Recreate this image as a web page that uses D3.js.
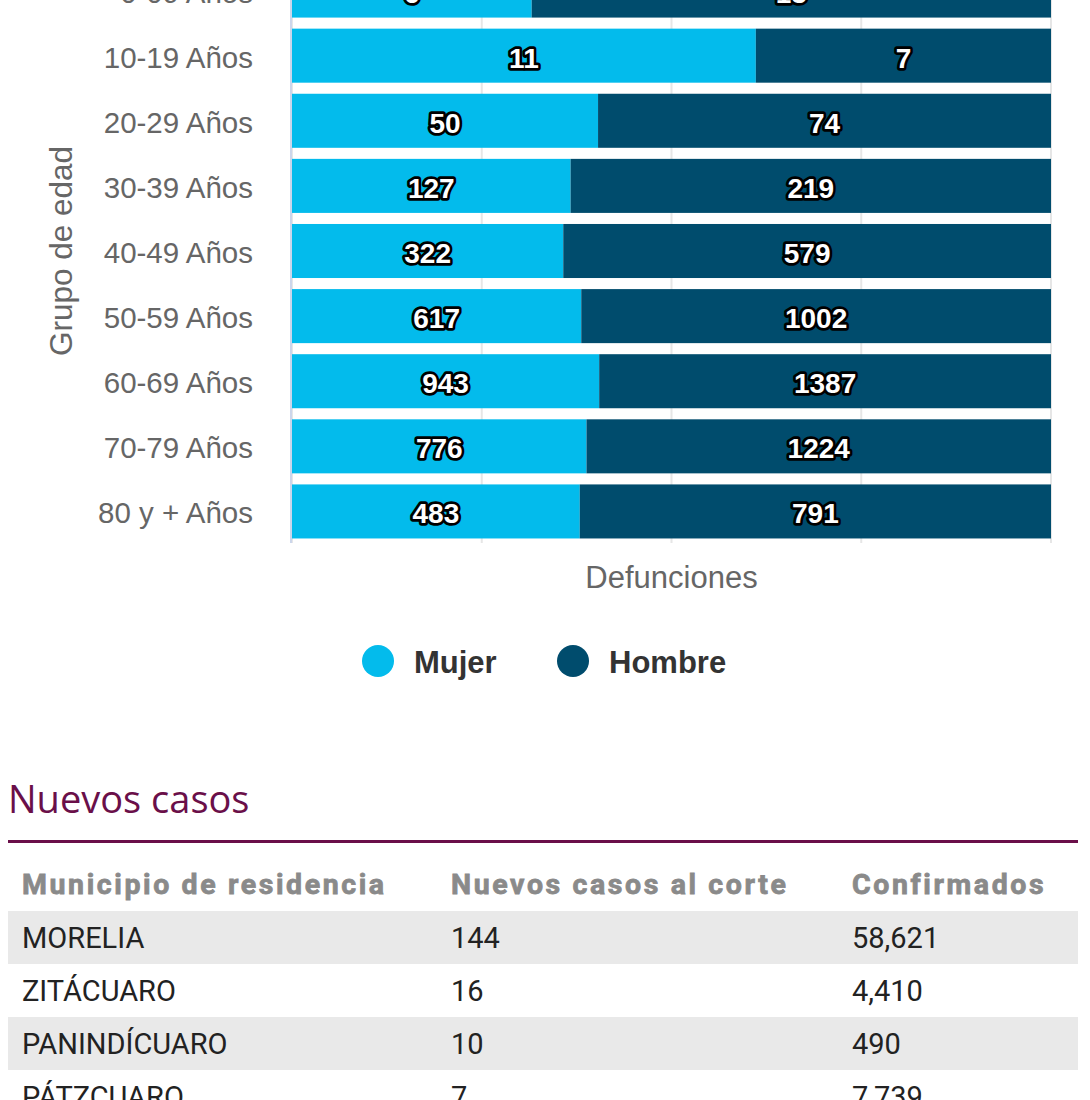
<!DOCTYPE html>
<html>
<head>
<meta charset="utf-8">
<script src="https://cdn.jsdelivr.net/npm/d3@7"></script>
<style>
  body { margin: 0; background: #fff; overflow: hidden; }
  #page { position: relative; width: 1090px; height: 1100px; overflow: hidden; }
  svg { position: absolute; left: 0; top: 0; }
  #heading { position: absolute; left: 8px; top: 772px; margin: 0; font-family: "Open Sans", sans-serif; font-weight: 500; font-size: 38px; color: #6a0f49; }
  #rule { position: absolute; left: 8px; top: 840px; width: 1070px; height: 3px; background: #6a0f49; }
  table { position: absolute; left: 8px; top: 858px; width: 1070px; border-collapse: collapse; font-family: Roboto, sans-serif; }
  th, td { height: 53px; padding: 0 0 0 14px; text-align: left; box-sizing: border-box; white-space: nowrap; }
  th { font-size: 28.5px; font-weight: 700; color: #8a8a8a; letter-spacing: 2.6px; -webkit-text-stroke: 0.8px #8a8a8a; }
  td { font-size: 29px; color: #222; }
  tbody tr:nth-child(odd) { background: #e9e9e9; }
</style>
</head>
<body>
<div id="page">
  <svg id="chart"></svg>
  <h2 id="heading">Nuevos casos</h2>
  <div id="rule"></div>
  <table id="casos"></table>
</div>
<script>
// chart data
let grupos = ["0-09 Años", "10-19 Años", "20-29 Años", "30-39 Años", "40-49 Años",
              "50-59 Años", "60-69 Años", "70-79 Años", "80 y + Años"]
let mujer = [6, 11, 50, 127, 322, 617, 943, 776, 483]
let hombre = [13, 7, 74, 219, 579, 1002, 1387, 1224, 791]
let pctTicks = [0, 25, 50, 75, 100]

// table data
let tablaCols = ["Municipio de residencia", "Nuevos casos al corte", "Confirmados"]
let municipios = ["MORELIA", "ZITÁCUARO", "PANINDÍCUARO", "PÁTZCUARO"]
let nuevos = ["144", "16", "10", "7"]
let confirmados = ["58,621", "4,410", "490", "7,739"]

let width = 1090
let height = 760
let colMujer = "#03bbec"
let colHombre = "#004c6d"
let font = "'Liberation Sans', Arial, sans-serif"

let svg = d3.select("#chart").attr("width", width).attr("height", height)

let xScale = d3.scaleLinear().domain([0, 100]).range([292, 1051])
let yScale = d3.scaleBand()
               .domain(grupos)
               .range([-42, 544])
               .paddingInner(0.17)
               .paddingOuter(0.085)

// grid
svg.append("g")
   .selectAll("line")
   .data(pctTicks)
   .enter()
   .append("line")
   .attr("x1", d => xScale(d))
   .attr("x2", d => xScale(d))
   .attr("y1", -43)
   .attr("y2", 543)
   .attr("stroke", "#e6e6e6")
   .attr("stroke-width", 2)

// left axis line
svg.append("line")
   .attr("x1", xScale(0) - 1).attr("x2", xScale(0) - 1)
   .attr("y1", -43).attr("y2", 543)
   .attr("stroke", "#ccd6eb")
   .attr("stroke-width", 2)

let rows = grupos.map((g, i) => {
  let tot = mujer[i] + hombre[i]
  return { g: g, m: mujer[i], h: hombre[i], pm: mujer[i] / tot * 100 }
})

let bars = svg.append("g")
let segs = []
rows.forEach(r => {
  segs.push({ g: r.g, x0: 0, x1: r.pm, v: r.m, c: colMujer })
  segs.push({ g: r.g, x0: r.pm, x1: 100, v: r.h, c: colHombre })
})

bars.selectAll("rect")
    .data(segs)
    .enter()
    .append("rect")
    .attr("x", d => xScale(d.x0))
    .attr("width", d => xScale(d.x1) - xScale(d.x0))
    .attr("y", d => yScale(d.g))
    .attr("height", yScale.bandwidth())
    .attr("fill", d => d.c)

bars.selectAll("text")
    .data(segs)
    .enter()
    .append("text")
    .attr("x", d => (xScale(d.x0) + xScale(d.x1)) / 2)
    .attr("y", d => yScale(d.g) + yScale.bandwidth() / 2 + 12)
    .attr("text-anchor", "middle")
    .style("font-family", font)
    .style("font-weight", "bold")
    .style("font-size", "28px")
    .attr("fill", "#fff")
    .attr("stroke", "#000")
    .attr("stroke-width", 5.5)
    .attr("stroke-linejoin", "round")
    .attr("paint-order", "stroke")
    .text(d => d.v)

// category labels
svg.append("g")
   .selectAll("text")
   .data(grupos)
   .enter()
   .append("text")
   .attr("x", 253)
   .attr("y", d => yScale(d) + yScale.bandwidth() / 2 + 12)
   .attr("text-anchor", "end")
   .style("font-family", font)
   .style("font-size", "29.5px")
   .attr("fill", "#666")
   .text(d => d)

// axis titles
svg.append("text")
   .attr("transform", "translate(72, 251) rotate(-90)")
   .attr("text-anchor", "middle")
   .style("font-family", font)
   .style("font-size", "31.5px")
   .attr("fill", "#666")
   .text("Grupo de edad")

svg.append("text")
   .attr("x", (xScale(0) + xScale(100)) / 2)
   .attr("y", 588)
   .attr("text-anchor", "middle")
   .style("font-family", font)
   .style("font-size", "31px")
   .attr("fill", "#666")
   .text("Defunciones")

// legend
let legend = [{ t: "Mujer", c: colMujer, x: 378 }, { t: "Hombre", c: colHombre, x: 573 }]
let lg = svg.append("g")
lg.selectAll("circle")
  .data(legend)
  .enter()
  .append("circle")
  .attr("cx", d => d.x)
  .attr("cy", 661)
  .attr("r", 16)
  .attr("fill", d => d.c)
lg.selectAll("text")
  .data(legend)
  .enter()
  .append("text")
  .attr("x", d => d.x + 36)
  .attr("y", 673)
  .style("font-family", font)
  .style("font-weight", "bold")
  .style("font-size", "31px")
  .attr("fill", "#333")
  .text(d => d.t)

// table
let table = d3.select("#casos")
let colW = [429, 401, 240]
table.append("thead").append("tr")
     .selectAll("th")
     .data(tablaCols)
     .enter()
     .append("th")
     .style("width", (d, i) => colW[i] + "px")
     .text(d => d)

let tabla = municipios.map((m, i) => [m, nuevos[i], confirmados[i]])
table.append("tbody")
     .selectAll("tr")
     .data(tabla)
     .enter()
     .append("tr")
     .selectAll("td")
     .data(d => d)
     .enter()
     .append("td")
     .text(d => d)
</script>
</body>
</html>
